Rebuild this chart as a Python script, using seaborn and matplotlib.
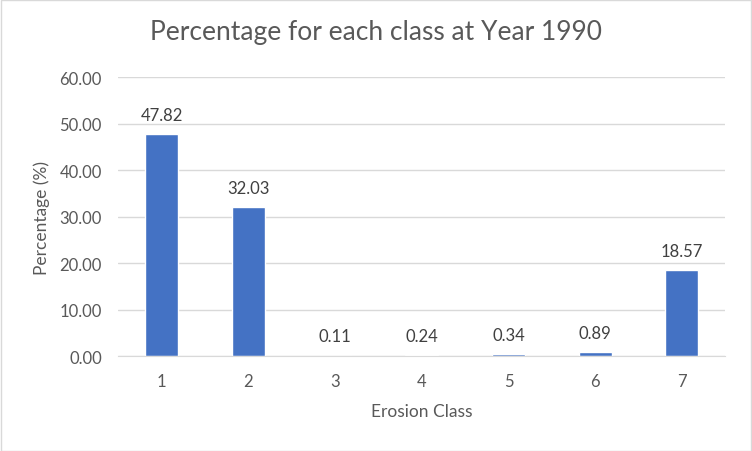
import matplotlib
matplotlib.use('Agg')
import pandas as pd
import matplotlib.pyplot as plt
import seaborn as sns

# Data
classes = ['1', '2', '3', '4', '5', '6', '7']
percentages = [47.82, 32.03, 0.11, 0.24, 0.34, 0.89, 18.57]
yticks = [0, 10, 20, 30, 40, 50, 60]

df = pd.DataFrame({'Erosion Class': classes, 'Percentage (%)': percentages})

sns.set_style('white')
plt.rcParams['font.family'] = ['Lato', 'DejaVu Sans']
grey = '#595959'

fig = plt.figure(figsize=(7.52, 4.52), dpi=100)
ax = fig.add_axes([0.1575, 0.21, 0.807, 0.617])

sns.barplot(data=df, x='Erosion Class', y='Percentage (%)', color='#4472c4',
            width=0.38, saturation=1, ax=ax)

ax.set_xlim(-0.5, 6.5)
ax.set_ylim(0, 60)
ax.set_yticks(yticks)
ax.set_yticklabels([f'{v:.2f}' for v in yticks])
ax.yaxis.grid(True, color='#d9d9d9', linewidth=1)
ax.set_axisbelow(True)
for s in ['top', 'right', 'left']:
    ax.spines[s].set_visible(False)
ax.spines['bottom'].set_color('#d9d9d9')
ax.tick_params(axis='y', length=0, colors=grey, labelsize=12, pad=12)
ax.tick_params(axis='x', length=0, colors=grey, labelsize=12, pad=12)

ax.bar_label(ax.containers[0], fmt='%.2f', padding=8, color='#404040', fontsize=12)

ax.set_xlabel('Erosion Class', color=grey, fontsize=12.5, labelpad=10)
ax.set_ylabel('Percentage (%)', color=grey, fontsize=12.5, labelpad=7)
fig.suptitle('Percentage for each class at Year 1990', color=grey, fontsize=19, y=0.955)

# light border around the chart area
fig.patches.append(plt.Rectangle((0.001, 0.001), 0.998, 0.997, transform=fig.transFigure,
                                 fill=False, edgecolor='#d9d9d9', linewidth=1))

fig.savefig('out.png', dpi=100)
